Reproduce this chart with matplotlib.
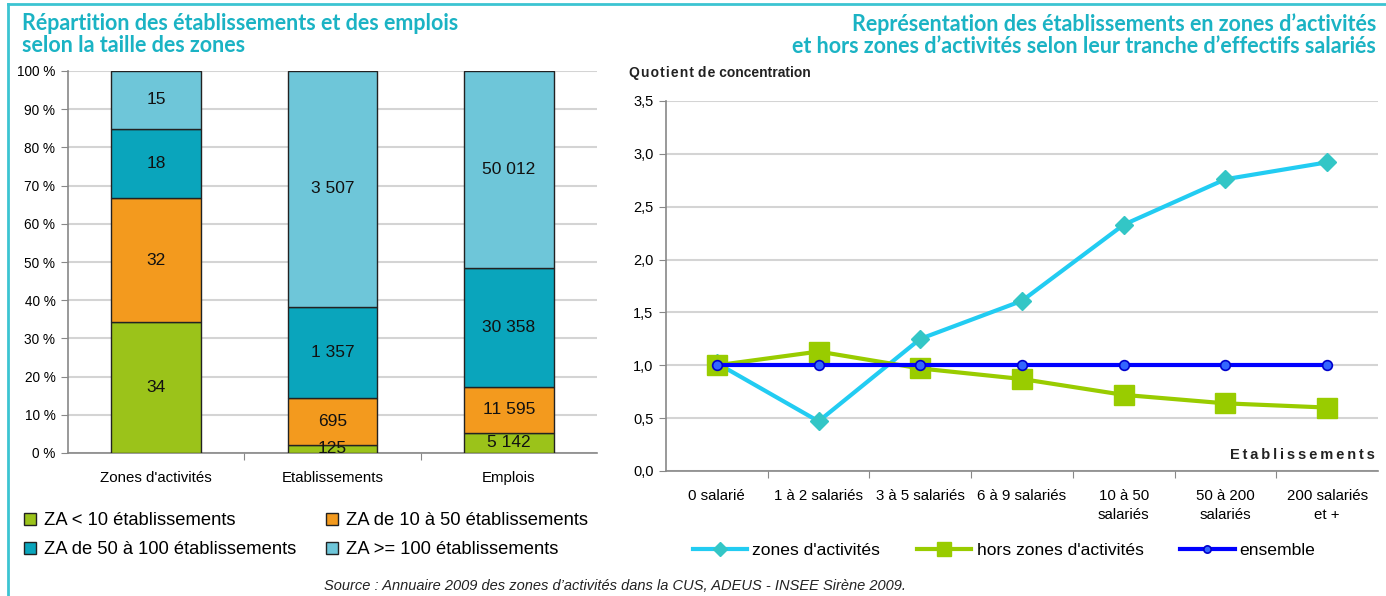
import numpy as np
import matplotlib
matplotlib.use('Agg')
import matplotlib.pyplot as plt
from matplotlib.patches import Patch
from matplotlib.lines import Line2D

plt.rcParams['font.family'] = ['Liberation Sans', 'DejaVu Sans']

# Données - graphique de gauche (barres empilées)
categories = ["Zones d'activités", "Etablissements", "Emplois"]
za_moins10 = [34, 125, 5142]
za_10_50 = [32, 695, 11595]
za_50_100 = [18, 1357, 30358]
za_100plus = [15, 3507, 50012]
labels_bar = ["ZA < 10 établissements", "ZA de 10 à 50 établissements",
              "ZA de 50 à 100 établissements", "ZA >= 100 établissements"]

# Données - graphique de droite (quotient de concentration)
tranches = ["0 salarié", "1 à 2 salariés", "3 à 5 salariés", "6 à 9 salariés",
            "10 à 50\nsalariés", "50 à 200\nsalariés", "200 salariés\net +"]
zones_act = [1.02, 0.47, 1.25, 1.61, 2.33, 2.76, 2.92]
hors_zones = [1.00, 1.13, 0.97, 0.87, 0.72, 0.64, 0.60]
ensemble = [1.0, 1.0, 1.0, 1.0, 1.0, 1.0, 1.0]

c_green = '#9BC31A'
c_orange = '#F39A1E'
c_teal = '#0AA5BC'
c_light = '#6EC6D9'
c_title = '#1BB3C4'

W, H = 1386, 596
fig = plt.figure(figsize=(W / 100, H / 100), dpi=100)

def box(l, t, r, b):
    return [l / W, 1 - b / H, (r - l) / W, (b - t) / H]

def espace(s):
    # lettres espacées (hair space)
    return '\u200a'.join(s)

# cadre
fig.add_artist(Line2D([8 / W, 8 / W], [0, 1 - 4 / H], color='#3CC4D2', lw=2))
fig.add_artist(Line2D([8 / W, 1], [1 - 4 / H, 1 - 4 / H], color='#3CC4D2', lw=2))

# ---------- gauche ----------
ax1 = fig.add_axes(box(68, 71, 597, 453))
series = np.array([za_moins10, za_10_50, za_50_100, za_100plus], dtype=float)
pct = series / series.sum(axis=0) * 100
colors = [c_green, c_orange, c_teal, c_light]
x = np.arange(len(categories))
bottom = np.zeros(len(categories))
for i in range(4):
    ax1.bar(x, pct[i], 0.51, bottom=bottom, color=colors[i], edgecolor='#222222',
            linewidth=1, zorder=3)
    for j in range(len(categories)):
        v = int(series[i, j])
        txt = f"{v:,}".replace(',', ' ')
        ax1.text(x[j], bottom[j] + pct[i, j] / 2, txt, ha='center', va='center',
                 fontsize=12.5, zorder=4, color='#111111')
    bottom += pct[i]

ax1.set_xlim(-0.5, 2.5)
ax1.set_ylim(0, 100)
ax1.set_yticks(np.arange(0, 101, 10))
ax1.set_yticklabels([f"{v} %" for v in range(0, 101, 10)], fontsize=9.8)
ax1.set_xticks([0.5, 1.5])
ax1.set_xticklabels([])
ax1.set_xticks(x, minor=True)
ax1.set_xticklabels(categories, minor=True, fontsize=10.8)
ax1.tick_params(axis='x', which='minor', length=0, pad=13)
ax1.tick_params(axis='x', which='major', length=5, direction='out', color='#888888')
ax1.tick_params(axis='y', length=5, color='#888888', pad=4)
ax1.grid(axis='y', color='#D4D4D4', lw=1.5, zorder=0)
for s in ['top', 'right']:
    ax1.spines[s].set_visible(False)
for s in ['left', 'bottom']:
    ax1.spines[s].set_color('#888888')
    ax1.spines[s].set_linewidth(1.2)

order = [0, 2, 1, 3]
handles = [Patch(facecolor=colors[i], edgecolor='#222222', linewidth=1) for i in order]
fig.legend(handles, [labels_bar[i] for i in order], ncol=2, frameon=False,
           loc='upper left', bbox_to_anchor=(17 / W, 1 - 505 / H), fontsize=13.2,
           handlelength=0.65, handleheight=0.65, handletextpad=0.45,
           columnspacing=1.6, labelspacing=0.66, borderaxespad=0)

fig.text(22 / W, 1 - 13 / H, "Répartition des établissements et des emplois\nselon la taille des zones",
         ha='left', va='top', fontsize=15.5, fontweight='bold', color=c_title,
         family=['Lato', 'DejaVu Sans'], linespacing=1.05)

# ---------- droite ----------
ax2 = fig.add_axes(box(666, 101, 1378, 471))
xr = np.arange(len(tranches))
ax2.plot(xr, ensemble, color='#0000FF', lw=3, marker='o', ms=7,
         mfc='#3366FF', mec='#0000CC', mew=1.2, zorder=5, label='ensemble')
ax2.plot(xr, hors_zones, color='#99CC00', lw=3, marker='s', ms=14,
         mfc='#99CC00', mec='#99CC00', zorder=4, label="hors zones d'activités")
ax2.plot(xr, zones_act, color='#22CCF2', lw=3, marker='D', ms=9.5,
         mfc='#33C6C6', mec='#33C6C6', zorder=3, label="zones d'activités")
ax2.set_xlim(-0.5, len(tranches) - 0.5)
ax2.set_ylim(0, 3.5)
ax2.set_yticks(np.arange(0, 3.51, 0.5))
ax2.set_yticklabels([f"{v:.1f}".replace('.', ',') for v in np.arange(0, 3.51, 0.5)], fontsize=10.5)
ax2.set_xticks(np.arange(0.5, len(tranches) - 0.5, 1))
ax2.set_xticklabels([])
ax2.set_xticks(xr, minor=True)
ax2.set_xticklabels(tranches, minor=True, fontsize=10.8, linespacing=1.45)
ax2.tick_params(axis='x', which='minor', length=0, pad=13)
ax2.tick_params(axis='x', which='major', length=5, direction='out', color='#888888')
ax2.tick_params(axis='y', length=5, color='#888888', pad=4)
ax2.grid(axis='y', color='#D4D4D4', lw=1.5, zorder=0)
for s in ['top', 'right']:
    ax2.spines[s].set_visible(False)
for s in ['left', 'bottom']:
    ax2.spines[s].set_color('#888888')
    ax2.spines[s].set_linewidth(1.2)

fig.text(629 / W, 1 - 73 / H, espace("Quotient") + ' ' + espace("de") + ' ' + "concentration",
         ha='left', va='center', fontsize=10, fontweight='bold', color='#222222')
fig.text(1375 / W, 1 - 455 / H, '\u2009'.join("Etablissements"), ha='right', va='center',
         fontsize=10.5, fontweight='bold', color='#222222')

fig.text(1376 / W, 1 - 13 / H,
         "Représentation des établissements en zones d’activités\net hors zones d’activités selon leur tranche d’effectifs salariés",
         ha='right', va='top', fontsize=15.5, fontweight='bold', color=c_title,
         family=['Lato', 'DejaVu Sans'], linespacing=1.05, multialignment='right')

h = ax2.get_legend_handles_labels()
lh = [h[0][2], h[0][1], h[0][0]]
ll = [h[1][2], h[1][1], h[1][0]]
fig.legend(lh, ll, ncol=3, frameon=False, loc='center left',
           bbox_to_anchor=(686 / W, 1 - 550 / H), fontsize=12.6,
           handlelength=3.1, handletextpad=0.3, columnspacing=2.1, borderaxespad=0,
           markerscale=0.75)

fig.text(615 / W, 1 - 586 / H,
         "Source : Annuaire 2009 des zones d’activités dans la CUS, ADEUS - INSEE Sirène 2009.",
         ha='center', va='center', fontsize=10.5, style='italic', color='#222222')

fig.savefig('out.png', dpi=100)
